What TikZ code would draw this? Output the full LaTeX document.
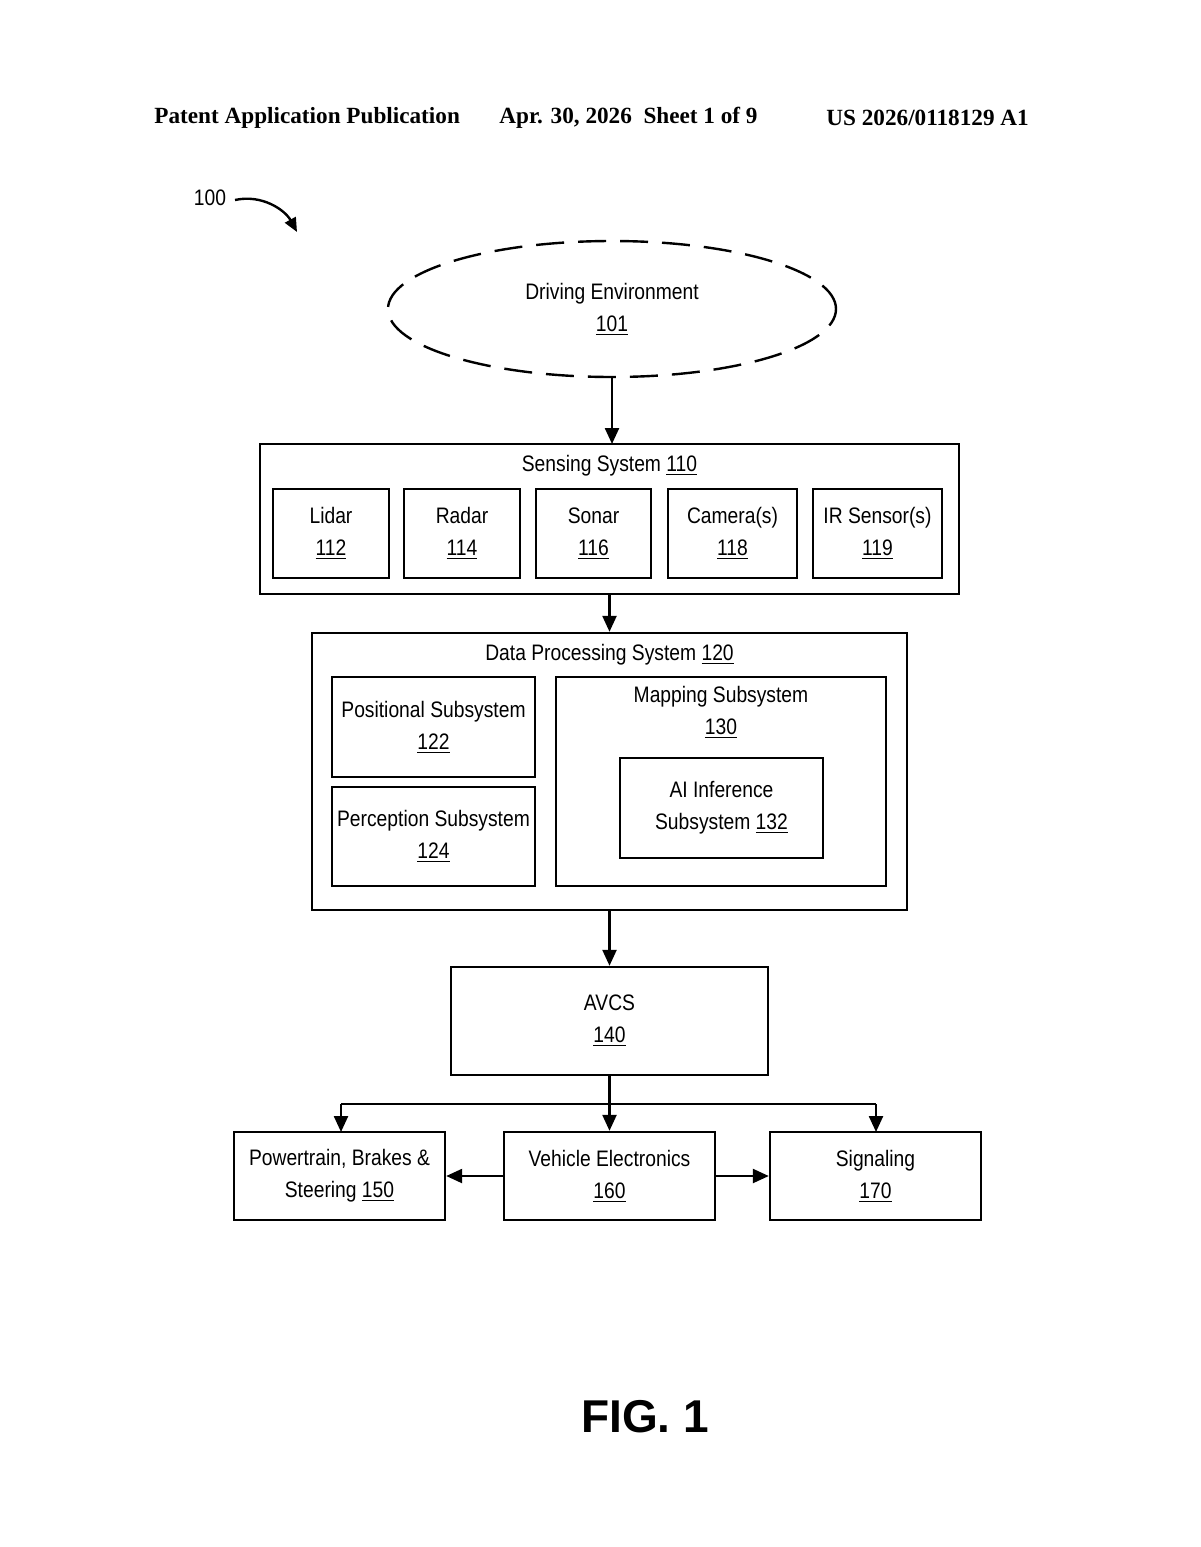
\documentclass[tikz,border=0pt]{standalone}
\usepackage{fontspec}
\setmainfont{Liberation Sans}[FakeStretch=0.86]
\newfontfamily\hdr{Liberation Serif}
\newfontfamily\figf{Liberation Sans}
\usetikzlibrary{arrows.meta,shapes.geometric}
\begin{document}
\begin{tikzpicture}[x=0.5pt,y=-0.5pt,
  box/.style={draw,line width=1.2pt},
  lbl/.style={font=\fontsize{11.2}{14}\selectfont,align=center,inner sep=0pt},
  arr/.style={line width=1.2pt,-{Triangle[length=8pt,width=7pt]}},
  ln/.style={line width=1.2pt}]
\useasboundingbox (0,0) rectangle (1200,1547);
\node[font=\hdr\bfseries\fontsize{11.6}{13}\selectfont,anchor=west,inner sep=0pt] (h1) at (154,118) {Patent Application Publication};
\node[font=\hdr\bfseries\fontsize{11.6}{13}\selectfont,anchor=west,inner sep=0pt] (h2) at (499,118) {Apr. 30, 2026\ \ Sheet 1 of 9};
\node[font=\hdr\bfseries\fontsize{11.6}{13}\selectfont,anchor=west,inner sep=0pt] (h3) at (826,118) {US 2026/0118129 A1};
\node[lbl] (n100) at (210,198) {100};
\coordinate (s100) at (235,200);
\coordinate (c100) at (297,232);
\draw[ln,-{Triangle[length=7pt,width=6pt]}] (s100) .. controls (262,194) and (285,210) .. (c100);
% ellipse
\node[draw,ellipse,dash pattern=on 14pt off 7pt,line width=1.2pt,minimum width=224pt,minimum height=68pt,lbl] (env) at (612,309) {Driving Environment\\[2pt]\underline{101}};
% sensing
\node[box,minimum width=349.5pt,minimum height=75pt] (s110) at (609.5,519) {};
\node[lbl] at (609.5,466) {Sensing System \underline{110}};
\node[box,lbl,minimum width=58pt,minimum height=44.5pt] (l) at (331,533.5) {Lidar\\[2pt]\underline{112}};
\node[box,lbl,minimum width=58pt,minimum height=44.5pt] (r) at (462,533.5) {Radar\\[2pt]\underline{114}};
\node[box,lbl,minimum width=57.5pt,minimum height=44.5pt] (so) at (593.5,533.5) {Sonar\\[2pt]\underline{116}};
\node[box,lbl,minimum width=64.5pt,minimum height=44.5pt] (ca) at (732.5,533.5) {Camera(s)\\[2pt]\underline{118}};
\node[box,lbl,minimum width=64.5pt,minimum height=44.5pt] (ir) at (877.5,533.5) {IR Sensor(s)\\[2pt]\underline{119}};
\coordinate (e1) at (612,444);
\draw[arr] (env.south) -- (e1);
% DPS
\node[box,minimum width=297.5pt,minimum height=138.5pt] (d120) at (609.5,771.5) {};
\node[lbl] at (609.5,655) {Data Processing System \underline{120}};
\node[box,lbl,minimum width=101.5pt,minimum height=50pt] (p122) at (433.5,727) {Positional Subsystem\\[2pt]\underline{122}};
\node[box,lbl,minimum width=101.5pt,minimum height=49.5pt] (p124) at (433.5,836.5) {Perception Subsystem\\[2pt]\underline{124}};
\node[box,minimum width=165pt,minimum height=104.5pt] (m130) at (721,781.5) {};
\node[lbl] at (721,712.5) {Mapping Subsystem\\[2pt]\underline{130}};
\node[box,lbl,minimum width=101.5pt,minimum height=50pt] (ai) at (721.5,808) {AI Inference\\[2pt]Subsystem \underline{132}};
\draw[arr] (s110.south) -- (d120.north);
% AVCS
\node[box,lbl,minimum width=158.5pt,minimum height=54pt] (av) at (609.5,1021) {AVCS\\[2pt]\underline{140}};
\draw[arr] (d120.south) -- (av.north);
\node[box,lbl,minimum width=105.5pt,minimum height=44pt] (pw) at (339.5,1176) {Powertrain, Brakes \&\\[2pt]Steering \underline{150}};
\node[box,lbl,minimum width=105.5pt,minimum height=44pt] (ve) at (609.5,1176) {Vehicle Electronics\\[2pt]\underline{160}};
\node[box,lbl,minimum width=105.5pt,minimum height=44pt] (sg) at (875.5,1176) {Signaling\\[2pt]\underline{170}};
\draw[arr] (av.south) -- (ve.north);
\coordinate (jl) at (341,1104);
\coordinate (jr) at (876,1104);
\coordinate (pl) at (341,1132);
\coordinate (pr) at (876,1132);
\draw[ln] (jl) -- (jr);
\draw[arr] (jl) -- (pl);
\draw[arr] (jr) -- (pr);
\draw[arr] (ve.west) -- (pw.east);
\draw[arr] (ve.east) -- (sg.west);
\node[font=\figf\bfseries\fontsize{23}{28}\selectfont] (fig) at (645,1417) {FIG. 1};
\end{tikzpicture}
\end{document}
